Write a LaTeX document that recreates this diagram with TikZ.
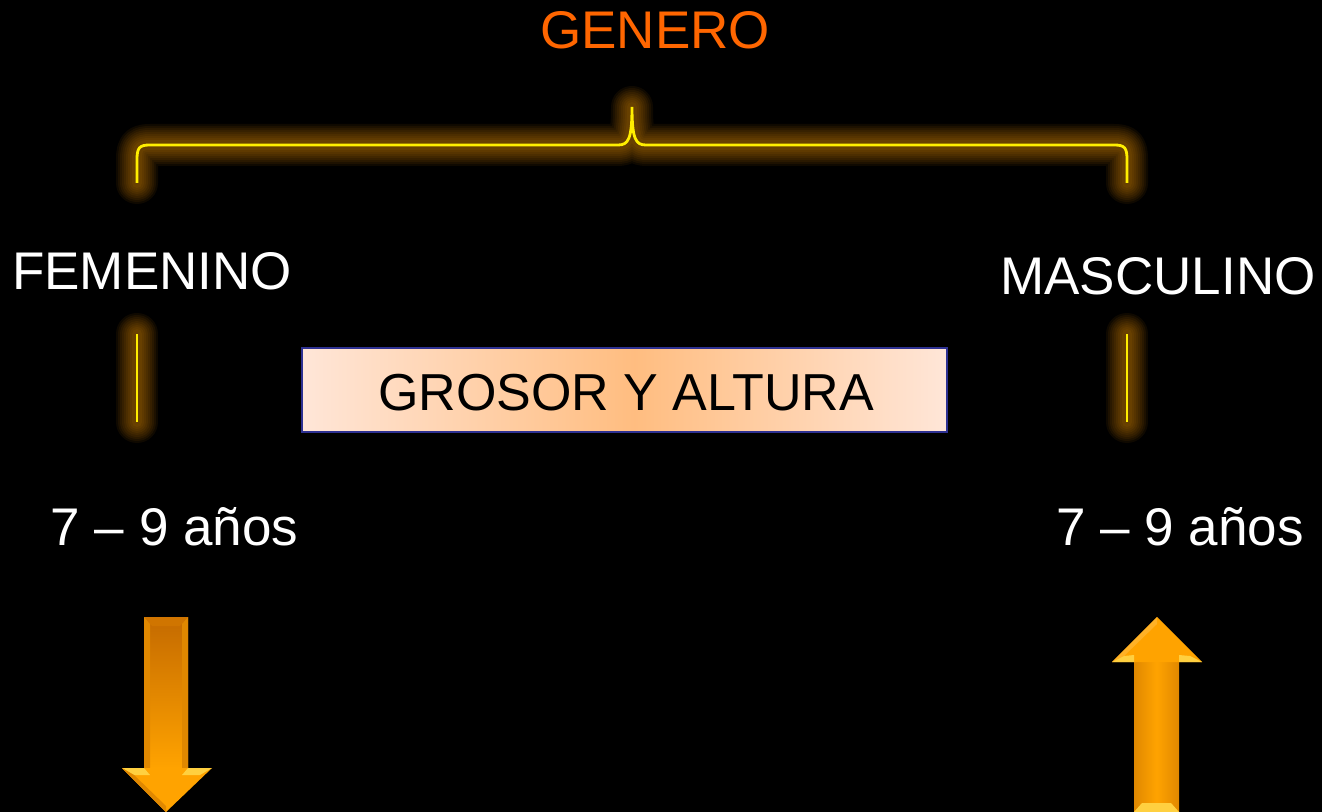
\documentclass[tikz,border=0pt]{standalone}
\usepackage{fontspec}
\setmainfont{Liberation Sans}
\usetikzlibrary{positioning}

\definecolor{fondo}{HTML}{000000}
\definecolor{naranja}{HTML}{FF6600}
\definecolor{brillo}{HTML}{FFA000}
\definecolor{llave}{HTML}{FFEE00}
\definecolor{melocoton}{HTML}{FFE6D8}
\definecolor{melocotonc}{HTML}{FFBD80}
\definecolor{marco}{HTML}{2E3192}
\definecolor{flecha}{HTML}{FFA300}
\definecolor{flechaos}{HTML}{C46A00}
\definecolor{flechacl}{HTML}{FFD040}
\definecolor{flechalado}{HTML}{E08800}

\newcommand{\conbrillo}[1]{%
  \foreach \ancho in {21,19,17,15,13,11,9,7,5}
    \draw[brillo, line width=\ancho pt, opacity=.06, line cap=round, line join=round] #1;
  \draw[llave, line width=1.4pt] #1;}

\begin{document}
\begin{tikzpicture}[x=0.5pt, y=-0.5pt,
  texto/.style={text=white, inner sep=0pt, anchor=base, font=\fontsize{26.5}{32}\selectfont},
  titulo/.style={texto, text=naranja},
  caja/.style={draw=marco, line width=1pt}]
  \fill[fondo] (0,0) rectangle (1322,812);

  % textos
  \node[titulo] (genero) at (655,49) {GENERO};
  \node[texto] (femenino) at (152,290) {FEMENINO};
  \node[texto] (masculino) at (1158,295) {MASCULINO};
  \node[texto] (edadf) at (174.5,545) {7 -- 9 años};
  \node[texto] (edadm) at (1180,545) {7 -- 9 años};

  % llave
  \coordinate (brL) at (137,183);
  \coordinate (brTop) at (632,107);
  \coordinate (brR) at (1127,183);
  \conbrillo{(brL) -- (137,160) .. controls (137,148) and (139,145) .. (150,145) -- (618,145) .. controls (628,145) and (632,140) .. (brTop) .. controls (632,140) and (636,145) .. (646,145) -- (1114,145) .. controls (1125,145) and (1127,148) .. (1127,160) -- (brR)}

  % rayas
  \conbrillo{(137,334) -- (137,422)}
  \conbrillo{(1127,334) -- (1127,422)}

  % caja central
  \shade[left color=melocoton, right color=melocotonc] (302,348) rectangle (635,432);
  \shade[left color=melocotonc, right color=melocoton] (634,348) rectangle (947,432);
  \draw[caja] (302,348) rectangle (947,432);
  \node[texto, text=black, font=\fontsize{26}{30}\selectfont] (grosor) at (626,410) {GROSOR Y ALTURA};

  % flecha abajo
  \shade[top color=flechaos, bottom color=flecha] (144,617) rectangle (188,768);
  \fill[flechaos!80!flecha] (144,617) -- (188,617) -- (180,626) -- (152,626) -- cycle;
  \fill[flechalado] (144,617) -- (150,624) -- (150,768) -- (144,768) -- cycle;
  \fill[flechalado] (188,617) -- (182,624) -- (182,768) -- (188,768) -- cycle;
  \fill[flecha] (122,768) -- (212,768) -- (166,812) -- cycle;
  \fill[flechacl] (122,768) -- (144,768) -- (150,775) -- (134,775) -- cycle;
  \fill[flechacl] (212,768) -- (188,768) -- (182,775) -- (200,775) -- cycle;
  \fill[flechalado] (122,768) -- (134,775) -- (166,806) -- (166,812) -- cycle;

  % flecha arriba
  \shade[left color=flechalado, right color=flechalado, middle color=flecha] (1134,662) rectangle (1179,812);
  \fill[flecha] (1112,662) -- (1157,617) -- (1202,662) -- cycle;
  \fill[flecha!85!white] (1157,617) -- (1157,624) -- (1124,656) -- (1112,662) -- cycle;
  \fill[flechacl] (1112,662) -- (1134,662) -- (1134,655) -- (1124,656) -- cycle;
  \fill[flechacl] (1202,662) -- (1179,662) -- (1179,655) -- (1190,656) -- cycle;
  \fill[flechacl] (1134,812) -- (1179,812) -- (1171,803) -- (1142,803) -- cycle;
\end{tikzpicture}
\end{document}
